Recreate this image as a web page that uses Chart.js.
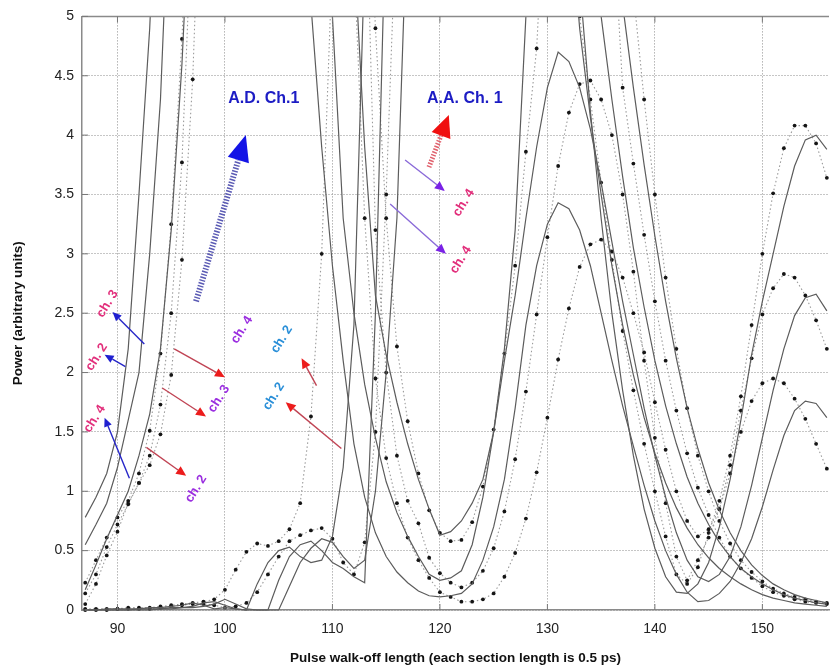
<!DOCTYPE html>
<html>
<head>
<meta charset="utf-8">
<script src="https://cdn.jsdelivr.net/npm/chart.js@4.4.0/dist/chart.umd.min.js"></script>
<style>
  body { margin: 0; background: #fff; }
  #wrap { width: 833px; height: 670px; }
</style>
</head>
<body>
<div id="wrap"><canvas id="walkoffChart" width="833" height="670"></canvas></div>
<script>
// walk-off length samples (x axis)
const walkOff = [87, 88, 89, 90, 91, 92, 93, 94, 95, 96,
  97, 98, 99, 100, 101, 102, 103, 104, 105, 106,
  107, 108, 109, 110, 111, 112, 113, 114, 115, 116,
  117, 118, 119, 120, 121, 122, 123, 124, 125, 126,
  127, 128, 129, 130, 131, 132, 133, 134, 135, 136,
  137, 138, 139, 140, 141, 142, 143, 144, 145, 146,
  147, 148, 149, 150, 151, 152, 153, 154, 155, 156];
const xTicks = [90, 100, 110, 120, 130, 140, 150];
const yTicks = [0, 0.5, 1, 1.5, 2, 2.5, 3, 3.5, 4, 4.5, 5];

// solid curves (values above 5 run off the top of the plot)
const solidA = [0.78, 0.95, 1.15, 1.5, 2.2, 3.5, 4.9, 7, 9, 9,
  9, 9, 9, 9, 9, 9, 9, 9, 9, 8,
  6.5, 5.1, 3.9, 2.9, 2.1, 1.4, 0.95, 0.65, 0.45, 0.32,
  0.23, 0.16, 0.12, 0.11, 0.12, 0.14, 0.22, 0.42, 0.7, 1.1,
  1.7, 2.4, 2.9, 3.25, 3.43, 3.38, 3.2, 2.9, 2.5, 2.1,
  1.72, 1.38, 1.05, 0.75, 0.5, 0.3, 0.15, 0.07, 0.08, 0.14,
  0.24, 0.4, 0.6, 0.87, 1.18, 1.47, 1.68, 1.76, 1.74, 1.62];
const solidB = [0.55, 0.72, 0.9, 1.2, 1.6, 2.0, 3.0, 4.3, 6.5, 9,
  9, 9, 9, 9, 9, 9, 9, 9, 9, 9,
  9, 8, 6.2, 5.0, 3.3, 2.5, 1.9, 1.45, 1.08, 0.82,
  0.62, 0.45, 0.3, 0.25, 0.27, 0.33, 0.55, 0.95, 1.5, 2.1,
  2.65, 3.3, 3.9, 4.4, 4.7, 4.62, 4.4, 4.05, 3.6, 3.1,
  2.6, 2.15, 1.7, 1.3, 0.95, 0.65, 0.42, 0.28, 0.24, 0.3,
  0.45, 0.7, 1.05, 1.45, 1.85, 2.2, 2.48, 2.63, 2.66, 2.52];
const solidC = [0.17, 0.38, 0.6, 0.8, 1.0, 1.3, 1.65, 2.2, 3.2, 4.6,
  6.5, 9, 9, 9, 9, 9, 9, 9, 9, 9,
  9, 9, 9, 9, 7, 5.6, 3.9, 2.65, 2.15, 1.75,
  1.4, 1.1, 0.85, 0.63, 0.66, 0.75, 0.9, 1.1, 1.5, 2.2,
  3.2, 5.0, 7, 9, 9, 9, 5.3, 4.2, 3.3, 2.5,
  1.85, 1.3, 0.85, 0.52, 0.28, 0.15, 0.14, 0.22, 0.4, 0.7,
  1.1, 1.6, 2.15, 2.6, 3.0, 3.4, 3.74, 3.96, 4.0, 3.88];
const solidD = [0, 0, 0.01, 0.01, 0.01, 0.01, 0.02, 0.02, 0.03, 0.04,
  0.06, 0.04, 0.01, 0.02, 0.01, 0, 0.22, 0.4, 0.5, 0.53,
  0.45, 0.4, 0.42, 0.62, 1.2, 2.4, 5.5, 9, 9, 9,
  9, 9, 9, 9, 9, 9, 9, 9, 9, 9,
  9, 9, 9, 9, 9, 6, 4.9, 4.15, 3.5, 2.9,
  2.4, 1.98, 1.62, 1.32, 1.07, 0.86, 0.69, 0.55, 0.44, 0.35,
  0.28, 0.22, 0.17, 0.13, 0.1, 0.08, 0.06, 0.05, 0.04, 0.03];
const solidE = [0, 0, 0, 0, 0, 0.01, 0.01, 0.01, 0.02, 0.02,
  0.03, 0.06, 0.07, 0.04, 0.01, 0, 0, 0, 0.25, 0.45,
  0.55, 0.58, 0.5, 0.4, 0.35, 0.28, 0.23, 2.5, 6, 9,
  9, 9, 9, 9, 9, 9, 9, 9, 9, 9,
  9, 9, 9, 9, 9, 9, 9, 8, 5.0, 4.3,
  3.65, 3.05, 2.55, 2.1, 1.72, 1.4, 1.12, 0.9, 0.72, 0.57,
  0.45, 0.35, 0.28, 0.22, 0.17, 0.13, 0.1, 0.08, 0.06, 0.05];
const solidF = [0, 0, 0, 0, 0, 0, 0, 0.01, 0.01, 0.02,
  0.02, 0.03, 0.05, 0.09, 0.05, 0.01, 0, 0, 0, 0.2,
  0.4, 0.52, 0.6, 0.57, 0.45, 0.35, 0.42, 1.0, 2.0, 3.3,
  6, 9, 9, 9, 9, 9, 9, 9, 9, 9,
  9, 9, 9, 9, 9, 9, 9, 9, 9, 6.2,
  5.1, 4.4, 3.75, 3.15, 2.6, 2.12, 1.7, 1.36, 1.07, 0.84,
  0.65, 0.5, 0.38, 0.29, 0.22, 0.17, 0.13, 0.1, 0.08, 0.06];

// dotted curves with markers
const dotA = [0.23, 0.42, 0.61, 0.78, 0.92, 1.15, 1.51, 2.16, 3.25, 4.81,
  7, 9, 9, 9, 9, 9, 9, 9, 9, 9,
  9, 9, 9, 9, 9, 5.5, 3.3, 1.95, 1.28, 0.9,
  0.61, 0.42, 0.27, 0.15, 0.11, 0.07, 0.07, 0.09, 0.14, 0.28,
  0.48, 0.77, 1.16, 1.62, 2.11, 2.54, 2.89, 3.08, 3.12, 3.02,
  2.8, 2.5, 2.17, 1.75, 1.35, 1.0, 0.75, 0.62, 0.68, 0.85,
  1.15, 1.5, 1.76, 1.91, 1.95, 1.91, 1.78, 1.61, 1.4, 1.19];
const dotB = [0.14, 0.3, 0.53, 0.72, 0.89, 1.07, 1.3, 1.73, 2.5, 3.77,
  6, 9, 9, 9, 9, 9, 9, 9, 9, 9,
  9, 9, 9, 9, 9, 9, 6.5, 3.2, 2.0, 1.3,
  0.92, 0.73, 0.44, 0.31, 0.23, 0.19, 0.23, 0.33, 0.52, 0.83,
  1.27, 1.84, 2.49, 3.14, 3.74, 4.19, 4.43, 4.46, 4.3, 4.0,
  3.5, 2.85, 2.1, 1.45, 0.9, 0.45, 0.25, 0.42, 0.61, 0.85,
  1.22, 1.68, 2.12, 2.49, 2.71, 2.83, 2.8, 2.65, 2.44, 2.2];
const dotC = [0.05, 0.22, 0.46, 0.66, 0.9, 1.07, 1.22, 1.48, 1.98, 2.95,
  4.47, 7, 9, 9, 9, 9, 9, 9, 9, 9,
  9, 9, 9, 9, 9, 9, 7, 4.9, 3.3, 2.22,
  1.59, 1.15, 0.84, 0.65, 0.58, 0.59, 0.74, 1.04, 1.52, 2.16,
  2.9, 3.86, 4.73, 6.5, 9, 9, 9, 9, 9, 6,
  4.4, 3.76, 3.16, 2.6, 2.1, 1.68, 1.32, 1.03, 0.8, 0.61,
  0.45, 0.35, 0.27, 0.2, 0.15, 0.12, 0.09, 0.07, 0.06, 0.05];
const dotD = [0.01, 0.01, 0.01, 0.01, 0.02, 0.02, 0.02, 0.03, 0.04, 0.05,
  0.06, 0.07, 0.09, 0.17, 0.34, 0.49, 0.56, 0.54, 0.58, 0.68,
  0.9, 1.63, 3.0, 5.5, 9, 9, 9, 9, 9, 9,
  9, 9, 9, 9, 9, 9, 9, 9, 9, 9,
  9, 9, 9, 9, 9, 7, 5.0, 4.3, 3.6, 2.95,
  2.35, 1.85, 1.4, 1.0, 0.62, 0.3, 0.22, 0.36, 0.65, 0.92,
  1.3, 1.8, 2.4, 3.0, 3.51, 3.89, 4.08, 4.08, 3.93, 3.64];
const dotE = [0, 0, 0, 0.01, 0.01, 0.01, 0.01, 0.02, 0.03, 0.04,
  0.05, 0.05, 0.04, 0.02, 0.03, 0.06, 0.15, 0.3, 0.45, 0.58,
  0.63, 0.67, 0.69, 0.6, 0.4, 0.3, 0.57, 1.5, 3.5, 6,
  9, 9, 9, 9, 9, 9, 9, 9, 9, 9,
  9, 9, 9, 9, 9, 9, 9, 9, 9, 9,
  9, 5.2, 4.3, 3.5, 2.8, 2.2, 1.7, 1.3, 1.0, 0.75,
  0.56, 0.42, 0.32, 0.24, 0.18, 0.14, 0.11, 0.09, 0.07, 0.06];

const solidSeries = [solidA, solidB, solidC, solidD, solidE, solidF];
const dottedSeries = [dotA, dotB, dotC, dotD, dotE];

// annotations, in data units (walk-off, power)
const noteArrows = [
  { from: [92.5, 2.24], to: [89.54, 2.51], kind: 'blue' },
  { from: [90.74, 2.05], to: [88.8, 2.15], kind: 'blue' },
  { from: [91.11, 1.11], to: [88.8, 1.62], kind: 'blue' },
  { from: [95.28, 2.2], to: [100.0, 1.96], kind: 'red' },
  { from: [94.17, 1.87], to: [98.24, 1.63], kind: 'red' },
  { from: [92.69, 1.37], to: [96.39, 1.13], kind: 'red' },
  { from: [108.52, 1.89], to: [107.13, 2.12], kind: 'red' },
  { from: [110.83, 1.36], to: [105.65, 1.75], kind: 'red' },
  { from: [116.76, 3.79], to: [120.46, 3.53], kind: 'purple' },
  { from: [115.37, 3.42], to: [120.56, 3.0], kind: 'purple' },
  { from: [97.31, 2.6], to: [101.94, 4.0], kind: 'bigBlue' },
  { from: [118.98, 3.73], to: [120.83, 4.17], kind: 'bigRed' }
];
const noteLabels = [
  { at: [89.07, 2.58], text: 'ch. 3', color: '#e2307c' },
  { at: [88.06, 2.13], text: 'ch. 2', color: '#e2307c' },
  { at: [87.87, 1.61], text: 'ch. 4', color: '#e2307c' },
  { at: [101.57, 2.36], text: 'ch. 4', color: '#9b2fe0' },
  { at: [99.44, 1.78], text: 'ch. 3', color: '#9b2fe0' },
  { at: [97.31, 1.02], text: 'ch. 2', color: '#9b2fe0' },
  { at: [105.28, 2.28], text: 'ch. 2', color: '#2a8fd8' },
  { at: [104.54, 1.8], text: 'ch. 2', color: '#2a8fd8' },
  { at: [122.22, 3.43], text: 'ch. 4', color: '#e2307c' },
  { at: [121.94, 2.95], text: 'ch. 4', color: '#e2307c' }
];
const noteTitles = [
  { at: [103.61, 4.31], text: 'A.D. Ch.1' },
  { at: [122.31, 4.31], text: 'A.A. Ch. 1' }
];

const arrowStyles = {
  blue:    { shaft: '#2626c8', tip: '#2020d0', width: 1.4, head: 9, half: 4 },
  red:     { shaft: '#c04454', tip: '#ec1c1c', width: 1.4, head: 10, half: 4.5 },
  purple:  { shaft: '#8a6ad8', tip: '#7a22e6', width: 1.4, head: 10, half: 4.5 },
  bigBlue: { shaft: '#5a5ab4', tip: '#1414e6', width: 6, head: 26, half: 11, dash: [1.5, 1.5] },
  bigRed:  { shaft: '#e0606c', tip: '#f01010', width: 5, head: 22, half: 10, dash: [1.5, 1.5] }
};

function toPoints(vals) {
  return walkOff.map((x, i) => ({ x: x, y: vals[i] }));
}

function drawArrow(ctx, x1, y1, x2, y2, st) {
  const ang = Math.atan2(y2 - y1, x2 - x1);
  const bx = x2 - st.head * Math.cos(ang);
  const by = y2 - st.head * Math.sin(ang);
  ctx.save();
  ctx.strokeStyle = st.shaft;
  ctx.lineWidth = st.width;
  ctx.setLineDash(st.dash || []);
  ctx.beginPath();
  ctx.moveTo(x1, y1);
  ctx.lineTo(bx, by);
  ctx.stroke();
  ctx.setLineDash([]);
  ctx.fillStyle = st.tip;
  ctx.beginPath();
  ctx.moveTo(x2, y2);
  ctx.lineTo(bx + st.half * Math.sin(ang), by - st.half * Math.cos(ang));
  ctx.lineTo(bx - st.half * Math.sin(ang), by + st.half * Math.cos(ang));
  ctx.closePath();
  ctx.fill();
  ctx.restore();
}

const notesPlugin = {
  id: 'notes',
  afterDatasetsDraw(chart) {
    const ctx = chart.ctx;
    const xs = chart.scales.x, ys = chart.scales.y;
    const area = chart.chartArea;

    // frame top line + inner tick marks like the original plot
    ctx.save();
    ctx.strokeStyle = '#8a8a8a';
    ctx.lineWidth = 1.5;
    ctx.beginPath();
    ctx.moveTo(area.left, area.top);
    ctx.lineTo(area.right, area.top);
    ctx.stroke();
    ctx.lineWidth = 1;
    ctx.strokeStyle = '#777';
    xs.ticks.forEach(t => {
      const px = xs.getPixelForValue(t.value);
      ctx.beginPath();
      ctx.moveTo(px, area.bottom);
      ctx.lineTo(px, area.bottom - 6);
      ctx.moveTo(px, area.top);
      ctx.lineTo(px, area.top + 6);
      ctx.stroke();
    });
    ys.ticks.forEach(t => {
      const py = ys.getPixelForValue(t.value);
      ctx.beginPath();
      ctx.moveTo(area.left, py);
      ctx.lineTo(area.left + 6, py);
      ctx.stroke();
    });
    ctx.restore();

    noteArrows.forEach(a => {
      drawArrow(ctx,
        xs.getPixelForValue(a.from[0]), ys.getPixelForValue(a.from[1]),
        xs.getPixelForValue(a.to[0]), ys.getPixelForValue(a.to[1]),
        arrowStyles[a.kind]);
    });

    ctx.save();
    ctx.font = "bold 13px 'Liberation Sans', Arial, sans-serif";
    ctx.textAlign = 'center';
    ctx.textBaseline = 'middle';
    noteLabels.forEach(l => {
      ctx.save();
      ctx.translate(xs.getPixelForValue(l.at[0]), ys.getPixelForValue(l.at[1]));
      ctx.rotate(-58 * Math.PI / 180);
      ctx.fillStyle = l.color;
      ctx.fillText(l.text, 0, 0);
      ctx.restore();
    });
    ctx.font = "bold 16px 'Liberation Sans', Arial, sans-serif";
    ctx.fillStyle = '#1c1cc4';
    noteTitles.forEach(t => {
      ctx.fillText(t.text, xs.getPixelForValue(t.at[0]), ys.getPixelForValue(t.at[1]));
    });
    ctx.restore();
  }
};

Chart.defaults.font.family = "'Liberation Sans', Arial, sans-serif";
Chart.defaults.color = '#222';

const datasets = [];
solidSeries.forEach((vals, i) => {
  datasets.push({
    label: 'solid ' + (i + 1),
    data: toPoints(vals),
    borderColor: '#5c5c5c',
    borderWidth: 1.2,
    pointRadius: 0,
    tension: 0,
    clip: { left: 0, top: 0, right: 0, bottom: 4 }
  });
});
dottedSeries.forEach((vals, i) => {
  datasets.push({
    label: 'dotted ' + (i + 1),
    data: toPoints(vals),
    borderColor: '#9a9a9a',
    borderWidth: 1.1,
    borderDash: [1.5, 2.5],
    pointRadius: 1.9,
    pointBackgroundColor: '#151515',
    pointBorderWidth: 0,
    tension: 0,
    clip: { left: 0, top: 0, right: 0, bottom: 4 }
  });
});

new Chart(document.getElementById('walkoffChart'), {
  type: 'line',
  data: { datasets: datasets },
  plugins: [notesPlugin],
  options: {
    responsive: false,
    animation: false,
    layout: { padding: { top: 13, right: 0, left: 0, bottom: 0 } },
    plugins: {
      legend: { display: false },
      tooltip: { enabled: false }
    },
    scales: {
      x: {
        type: 'linear',
        min: 86.7,
        max: 156.2,
        afterBuildTicks: (scale) => {
          scale.ticks = xTicks.map(v => ({ value: v }));
        },
        afterFit: (scale) => { scale.height = 60; },
        ticks: { padding: 11, font: { size: 14 }, color: '#222', autoSkip: false, maxRotation: 0,
          callback: (v) => String(v) },
        grid: { color: '#8c8c8c', lineWidth: 1, drawTicks: false },
        border: { display: true, color: '#8a8a8a', width: 1.5, dash: [1, 2] },
        title: {
          display: true,
          text: 'Pulse walk-off length (each section length is 0.5 ps)',
          font: { size: 13.5, weight: 'bold' },
          color: '#111',
          padding: { top: 4, bottom: 4 }
        }
      },
      y: {
        min: 0,
        max: 5,
        afterBuildTicks: (scale) => {
          scale.ticks = yTicks.map(v => ({ value: v }));
        },
        afterFit: (scale) => { scale.width = 82; },
        ticks: { padding: 8, font: { size: 14 }, color: '#222', autoSkip: false,
          callback: (v) => String(v) },
        grid: { color: '#8c8c8c', lineWidth: 1, drawTicks: false },
        border: { display: true, color: '#8a8a8a', width: 1.5, dash: [1, 2] },
        title: {
          display: true,
          text: 'Power (arbitrary units)',
          font: { size: 13.5, weight: 'bold' },
          color: '#111',
          padding: { top: 10, bottom: 4 }
        }
      }
    }
  }
});
</script>
</body>
</html>
